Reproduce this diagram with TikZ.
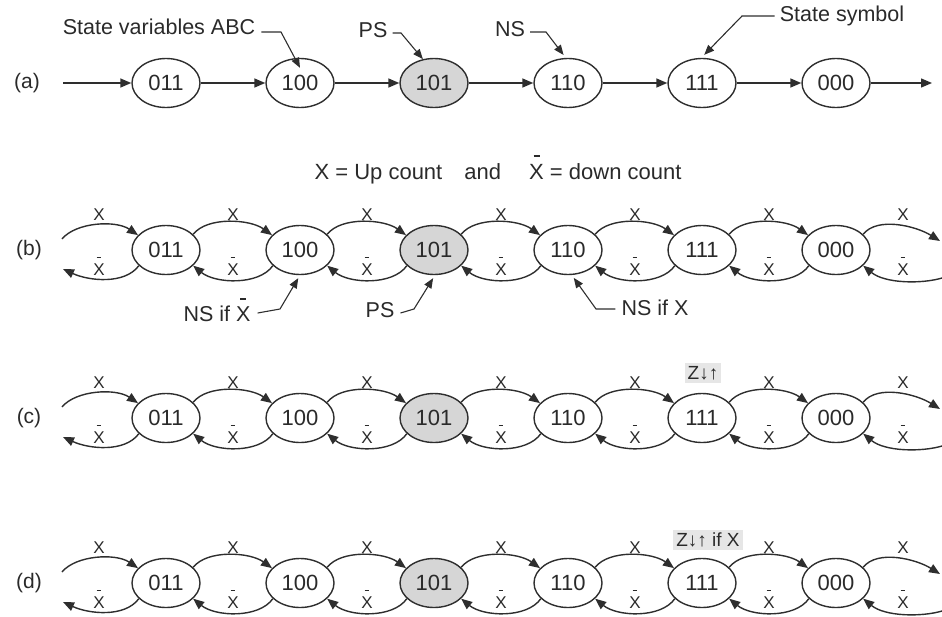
\documentclass[tikz,border=0pt]{standalone}
\usepackage{fontspec}
\setmainfont{Liberation Sans}
\usetikzlibrary{shapes.geometric,arrows.meta}
\definecolor{linec}{HTML}{2E2E2E}
\definecolor{txtc}{HTML}{2A2A2A}
\definecolor{shade}{HTML}{D6D6D6}
\definecolor{zbg}{HTML}{E6E6E6}
\newcommand{\myxbar}{\leavevmode\rlap{\hspace{0.2em}\raisebox{1.0em}{\rule{0.27em}{0.07em}}}X}
\tikzset{
  state/.style={ellipse, draw=linec, line width=1.4pt, minimum width=68pt, minimum height=49pt, inner sep=0pt, font=\fontsize{22}{26}\selectfont, text=txtc},
  st1/.style={}, st2/.style={}, st3/.style={fill=shade}, st4/.style={}, st5/.style={}, st6/.style={},
  arr/.style={-{Triangle[length=11pt,width=9pt]}, line width=1.4pt, draw=linec},
  lead/.style={-{Triangle[length=10pt,width=8pt]}, line width=1.1pt, draw=linec},
  xl/.style={font=\fontsize{17}{20}\selectfont, text=txtc, anchor=base, inner sep=0pt},
  ann/.style={font=\fontsize{21.5}{25}\selectfont, text=txtc, inner sep=0pt},
  rowl/.style={font=\fontsize{21}{25}\selectfont, text=txtc, inner sep=0pt},
  zl/.style={font=\fontsize{19}{22}\selectfont, text=txtc, fill=zbg, inner sep=3pt}
}
\begin{document}
\begin{tikzpicture}[x=1pt,y=-1pt]
\useasboundingbox (0,0) rectangle (942,616);
% ---------- row (a)
\node[rowl] (la) at (27,83) {(a)};
\foreach \i/\t/\x in {1/011/166,2/100/300,3/101/434,4/110/568,5/111/702,6/000/836}
  \node[state, st\i] (a\i) at (\x,83) {\t};
\coordinate (aL) at (63,83);
\coordinate (aR) at (932,83);
\draw[arr] (aL) -- (a1);
\foreach \i/\j in {1/2,2/3,3/4,4/5,5/6} \draw[arr] (a\i) -- (a\j);
\draw[arr] (a6) -- (aR);
% annotations (a)
\node[ann] (sva) at (159,27) {State variables ABC};
\coordinate (sva1) at (281,32);
\draw[lead] ([xshift=6pt]sva.east |- sva1) -- (sva1) -- ([yshift=-10pt]a2.north);
\node[ann] (aps) at (373,30) {PS};
\coordinate (aps1) at (401,33);
\draw[lead] ([xshift=5pt]aps.east |- aps1) -- (aps1) -- (a3.115);
\node[ann] (ans) at (510,29) {NS};
\coordinate (ans1) at (546,32);
\draw[lead] ([xshift=5pt]ans.east |- ans1) -- (ans1) -- ([yshift=3pt]a4.100);
\node[ann] (ssy) at (842,16) {State symbol};
\coordinate (ssy1) at (742,16);
\draw[lead] ([xshift=-5pt]ssy.west |- ssy1) -- (ssy1) -- ([yshift=3pt]a5.85);
% ---------- legend
\node[ann, anchor=base, font=\fontsize{22}{26}\selectfont] (leg) at (498,179) {X = Up count\quad and\quad\ \myxbar{} = down count};
% ---------- rows (b), (c), (d)
\foreach \r/\yy in {b/250,c/418,d/583} {
  \node[rowl] (l\r) at (29,\yy) {(\r)};
  \foreach \i/\t/\x in {1/011/166,2/100/300,3/101/434,4/110/568,5/111/702,6/000/836}
    \node[state, st\i] (\r\i) at (\x,\yy) {\t};
  \coordinate (\r L1) at (62,\yy-11);
  \coordinate (\r L2) at (63,\yy+19);
  \coordinate (\r R1) at (940,\yy-9);
  \coordinate (\r R2) at (942,\yy+28);
  \draw[arr] (\r L1) .. controls +(14,-17) and +(-22,-15) .. (\r1.152);
  \draw[arr] (\r1.210) .. controls +(-14,19) and +(26,12) .. (\r L2);
  \foreach \i/\j in {1/2,2/3,3/4,4/5,5/6} {
    \draw[arr] (\r\i.30) .. controls +(14,-18) and +(-22,-16) .. (\r\j.152);
    \draw[arr] (\r\j.210) .. controls +(-14,20) and +(22,18) .. (\r\i.330);
  }
  \draw[arr] (\r6.30) .. controls +(14,-18) and +(-24,-15) .. (\r R1);
  \draw[arr] (\r R2) .. controls +(-20,6) and +(22,18) .. (\r6.330);
  \foreach \k/\x in {1/99,2/233,3/367,4/501,5/635,6/769,7/903} {
    \node[xl] (\r x\k) at (\x,\yy-30) {X};
    \node[xl] (\r y\k) at (\x,\yy+25) {\myxbar};
  }
}
% annotations (b)
\node[ann] (nsb) at (217,310) {NS if \myxbar};
\coordinate (nsb1) at (280,309);
\draw[lead] ([xshift=7pt]nsb.east |- 0,313) -- (nsb1) -- ([yshift=-3pt]b2.266);
\node[ann] (psb) at (380,310) {PS};
\coordinate (psb1) at (414,309);
\draw[lead] ([xshift=6pt]psb.east |- 0,313) -- (psb1) -- ([yshift=-3pt]b3.268);
\node[ann] (nsxb) at (655,308) {NS if X};
\coordinate (nsxb1) at (596,309);
\draw[lead] ([xshift=-6pt]nsxb.west |- nsxb1) -- (nsxb1) -- ([yshift=-3pt]b4.283);
% Z labels
\node[zl] (zc) at (703,373) {Z↓↑};
\node[zl] (zd) at (708,540) {Z↓↑ if X};
\end{tikzpicture}
\end{document}
